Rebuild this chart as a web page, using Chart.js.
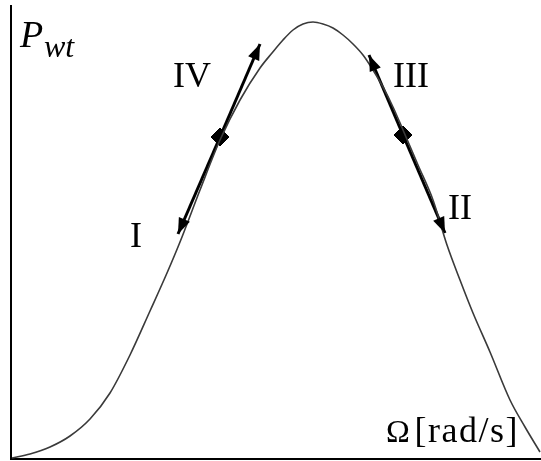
<!DOCTYPE html>
<html>
<head>
<meta charset="utf-8">
<script src="https://cdn.jsdelivr.net/npm/chart.js@4.4.0/dist/chart.umd.min.js"></script>
<style>
html, body { margin: 0; padding: 0; background: #fff; }
#wrap { width: 541px; height: 461px; }
</style>
</head>
<body>
<div id="wrap"><canvas id="powerChart" width="541" height="461"></canvas></div>
<script>
// turbine power curve (arbitrary units)
const omegaValues = [1, 19, 39, 59, 79, 99, 119, 139, 156, 169, 189, 209, 229, 249, 261, 272, 282, 292, 302, 312, 322, 332, 342, 352, 362, 372, 382, 392, 407, 422, 436, 449, 462, 479, 499, 514, 529];
const powerValues = [1, 5, 12, 23, 40, 66, 104, 148, 186, 217, 269, 319, 359, 391, 406, 419, 429, 435, 437, 435, 431, 424, 415, 404, 389, 372, 352, 329, 294, 259, 214, 179, 146, 107, 59, 32, 7];

// operating points (diamonds)
const opOmega = [209, 392];
const opPower = [322, 324];

// arrows: start at an operating point, end at a tip
const arrowNames = ['IV', 'I', 'III', 'II'];
const arrowFrom = [0, 0, 1, 1];
const arrowOmega = [249, 167, 358, 434];
const arrowPower = [415, 225, 404, 226];

// region labels
const labelText = ['IV', 'I', 'III', 'II'];
const labelOmega = [181, 125, 400, 449];
const labelPower = [381, 221, 381, 249];

const curve = omegaValues.map((x, i) => ({ x: x, y: powerValues[i] }));
const ops = opOmega.map((x, i) => ({ x: x, y: opPower[i] }));

const arrowSets = arrowNames.map((name, i) => ({
    label: name,
    isArrow: true,
    data: [ops[arrowFrom[i]], { x: arrowOmega[i], y: arrowPower[i] }],
    borderColor: '#000',
    borderWidth: 3,
    pointRadius: 0,
    showLine: true,
    fill: false
}));

// arrow heads + texts
const extrasPlugin = {
    id: 'extras',
    afterDatasetsDraw(chart) {
        const ctx = chart.ctx;
        const xs = chart.scales.x, ys = chart.scales.y;
        const area = chart.chartArea;
        ctx.save();
        chart.data.datasets.forEach((ds, di) => {
            if (!ds.isArrow) return;
            const pts = chart.getDatasetMeta(di).data;
            const a = pts[0], b = pts[1];
            const ang = Math.atan2(b.y - a.y, b.x - a.x);
            const len = 16, half = 6;
            ctx.beginPath();
            ctx.moveTo(b.x, b.y);
            ctx.lineTo(b.x - len * Math.cos(ang) + half * Math.sin(ang), b.y - len * Math.sin(ang) - half * Math.cos(ang));
            ctx.lineTo(b.x - len * Math.cos(ang) - half * Math.sin(ang), b.y - len * Math.sin(ang) + half * Math.cos(ang));
            ctx.closePath();
            ctx.fillStyle = '#000';
            ctx.fill();
        });

        ctx.fillStyle = '#000';
        ctx.textAlign = 'center';
        ctx.textBaseline = 'middle';
        ctx.font = '36px "Liberation Serif", serif';
        labelText.forEach((t, i) => {
            ctx.fillText(t, xs.getPixelForValue(labelOmega[i]), ys.getPixelForValue(labelPower[i]));
        });

        // axis titles
        ctx.textBaseline = 'alphabetic';
        ctx.textAlign = 'right';
        ctx.font = '36px "Liberation Serif", serif';
        ctx.letterSpacing = '1.5px';
        ctx.fillText('[rad/s]', area.right - 22, area.bottom - 17);
        ctx.letterSpacing = '0px';
        ctx.textAlign = 'left';
        ctx.font = '32px "Liberation Serif", serif';
        ctx.fillText('\u03A9', area.right - 155, area.bottom - 17);

        ctx.font = 'italic 38px "Liberation Serif", serif';
        ctx.fillText('P', area.left + 9, area.top + 41);
        ctx.font = 'italic 32px "Liberation Serif", serif';
        ctx.fillText('wt', area.left + 33, area.top + 51);
        ctx.restore();
    }
};

const ctx = document.getElementById('powerChart').getContext('2d');
new Chart(ctx, {
    type: 'scatter',
    data: {
        datasets: [
            {
                label: 'Pwt',
                data: curve,
                showLine: true,
                borderColor: '#3a3a3a',
                borderWidth: 1.6,
                pointRadius: 0,
                cubicInterpolationMode: 'monotone',
                fill: false
            },
            ...arrowSets,
            {
                label: 'ops',
                data: ops,
                pointStyle: 'rectRot',
                pointRadius: 9,
                backgroundColor: '#000',
                borderColor: '#000',
                showLine: false
            }
        ]
    },
    options: {
        responsive: false,
        animation: false,
        layout: { autoPadding: false, padding: { left: 11, right: 0, top: 6, bottom: 2 } },
        plugins: {
            legend: { display: false },
            tooltip: { enabled: false }
        },
        scales: {
            x: {
                type: 'linear',
                min: 0,
                max: 530,
                ticks: { display: false },
                grid: { display: false, drawTicks: false },
                border: { display: true, color: '#000', width: 2 }
            },
            y: {
                type: 'linear',
                min: 0,
                max: 453,
                ticks: { display: false },
                grid: { display: false, drawTicks: false },
                border: { display: true, color: '#000', width: 2 }
            }
        }
    },
    plugins: [extrasPlugin]
});
</script>
</body>
</html>
